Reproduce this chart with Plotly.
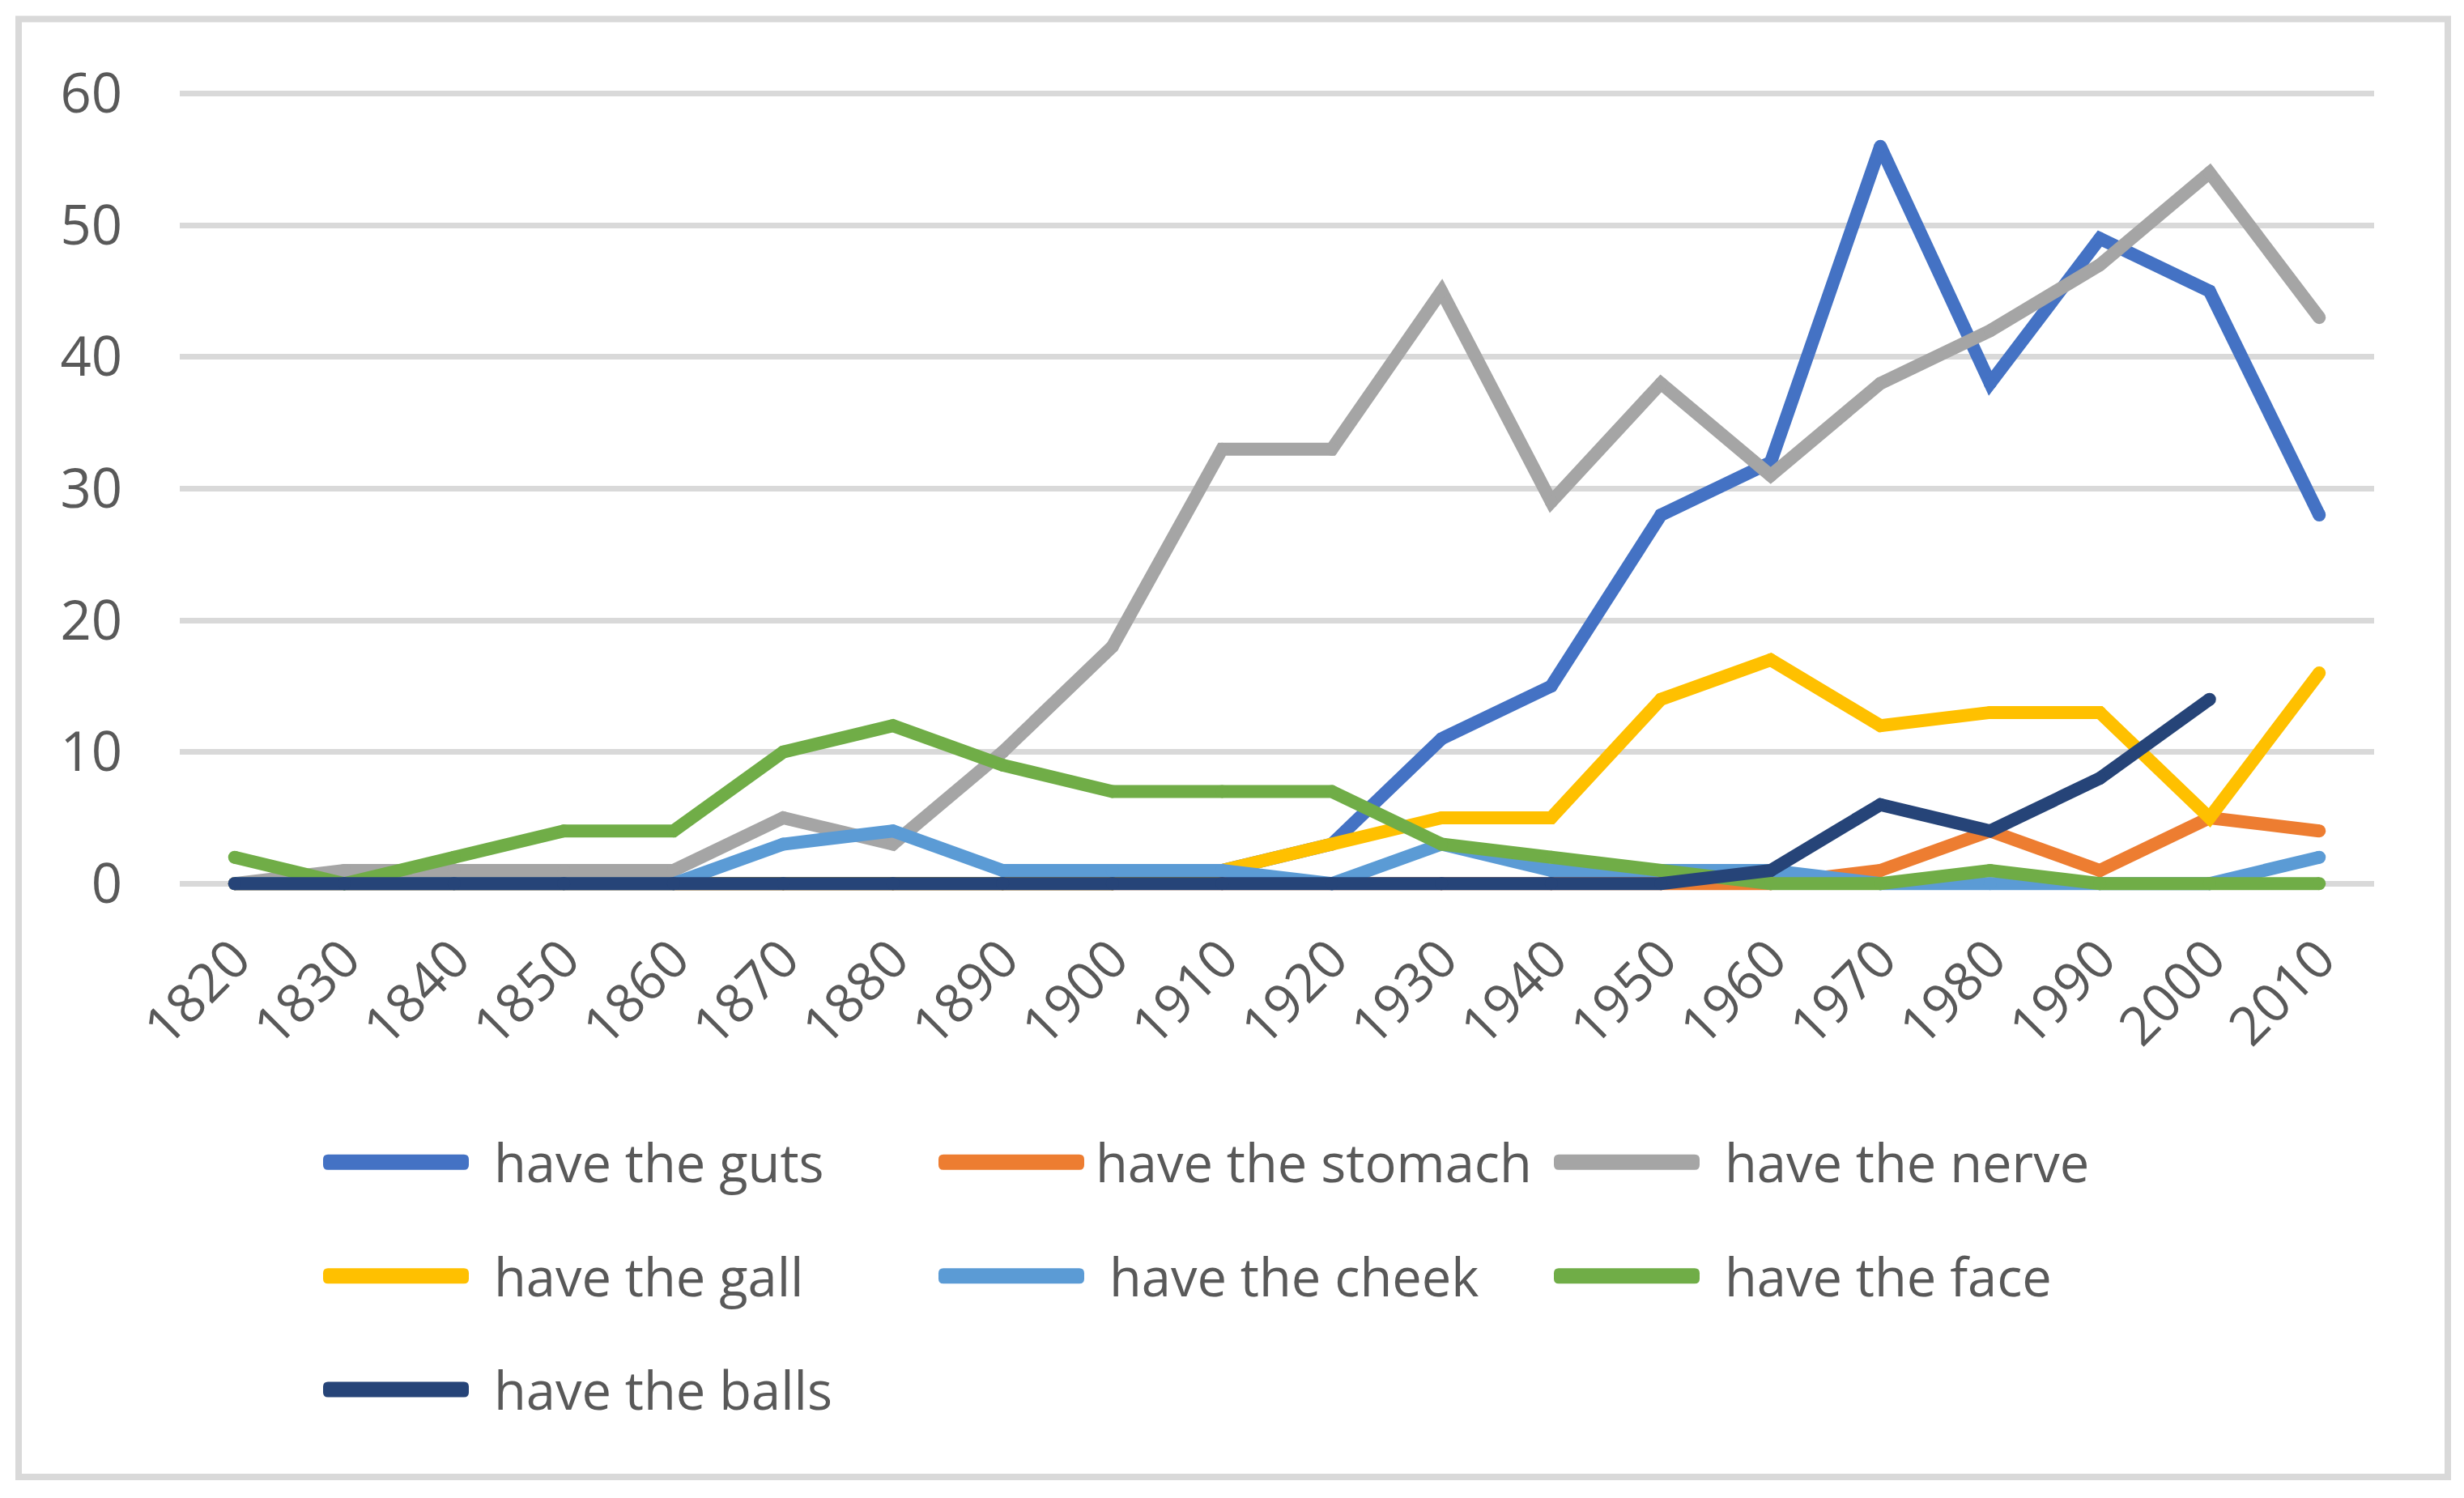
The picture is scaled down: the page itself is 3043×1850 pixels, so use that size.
import plotly.graph_objects as go

years = [1820, 1830, 1840, 1850, 1860, 1870, 1880, 1890, 1900, 1910,
         1920, 1930, 1940, 1950, 1960, 1970, 1980, 1990, 2000, 2010]

guts    = [0, 0, 0, 0, 0, 0, 0, 0, 0, 1, 3, 11, 15, 28, 32, 56, 38, 49, 45, 28]
stomach = [0, 0, 0, 0, 0, 0, 0, 0, 0, 0, 0, 0, 0, 0, 0, 1, 4, 1, 5, 4]
nerve   = [0, 1, 1, 1, 1, 5, 3, 10, 18, 33, 33, 45, 29, 38, 31, 38, 42, 47, 54, 43]
gall    = [0, 0, 0, 0, 0, 0, 0, 0, 0, 1, 3, 5, 5, 14, 17, 12, 13, 13, 5, 16]
cheek   = [0, 0, 0, 0, 0, 3, 4, 1, 1, 1, 0, 3, 1, 1, 1, 0, 0, 0, 0, 2]
face    = [2, 0, 2, 4, 4, 10, 12, 9, 7, 7, 7, 3, 2, 1, 0, 0, 1, 0, 0, 0]
balls   = [0, 0, 0, 0, 0, 0, 0, 0, 0, 0, 0, 0, 0, 0, 1, 6, 4, 8, 14, None]

series_names = ["have the guts", "have the stomach", "have the nerve",
                "have the gall", "have the cheek", "have the face", "have the balls"]
series_values = [guts, stomach, nerve, gall, cheek, face, balls]
colors = ["#4472C4", "#ED7D31", "#A5A5A5", "#FFC000", "#5B9BD5", "#70AD47", "#264478"]

y_ticks = [0, 10, 20, 30, 40, 50, 60]

# page is 3043x1850; the html body has an 8px default margin, so compensate
OFF = 8
W, H = 3043 - 2 * OFF, 1850 - 2 * OFF
FONT = "Open Sans"
TXT = "#595959"
LW = 16

# plot area in page pixels (converted to figure pixels with OFF)
PL, PR = 222 - OFF, 2932 - OFF
Y0_PX, Y60_PX = 1091.0 - OFF, 115.3 - OFF
unit = (Y0_PX - Y60_PX) / 60.0
pad = 0.6
ylo, yhi = -pad, 60 + pad
PT = Y60_PX - pad * unit
PB = Y0_PX + pad * unit

def px2x(px):
    # page pixel -> paper fraction
    return (px - OFF - PL) / (PR - PL)

def px2y(py):
    return (PB - (py - OFF)) / (PB - PT)

fig = go.Figure()
for name, vals, col in zip(series_names, series_values, colors):
    fig.add_trace(go.Scatter(
        x=years, y=vals, name=name, mode="lines+markers",
        line=dict(color=col, width=LW),
        marker=dict(color=col, size=LW, line=dict(width=0)),
        cliponaxis=False,
        showlegend=False,
    ))

shapes = []
annotations = []
# outer border
shapes.append(dict(type="rect", xref="paper", yref="paper",
                   x0=px2x(23), x1=px2x(3023), y0=px2y(1824), y1=px2y(23),
                   line=dict(color="#D9D9D9", width=8), fillcolor="rgba(0,0,0,0)",
                   layer="below"))

# manual legend (3 columns)
col_x = [399, 1159, 1919]
row_y = [1435, 1575.5, 1716]
sym_len = 180
sym_th = 19
text_gap = [29, 12, 29, 29, 29, 29, 29]

def rounded_bar(L, h, r):
    return (f"M {-L + r},{-h} L {L - r},{-h} Q {L},{-h} {L},{-h + r} "
            f"L {L},{h - r} Q {L},{h} {L - r},{h} L {-L + r},{h} "
            f"Q {-L},{h} {-L},{h - r} L {-L},{-h + r} Q {-L},{-h} {-L + r},{-h} Z")

for i, (name, col) in enumerate(zip(series_names, colors)):
    r, c = divmod(i, 3)
    x0 = col_x[c]
    y = row_y[r]
    shapes.append(dict(type="path", xref="paper", yref="paper",
                       xsizemode="pixel", ysizemode="pixel",
                       xanchor=px2x(x0 + sym_len / 2), yanchor=px2y(y),
                       path=rounded_bar(sym_len / 2, sym_th / 2, 6),
                       fillcolor=col, line=dict(width=0)))
    annotations.append(dict(xref="paper", yref="paper", x=px2x(x0 + sym_len + text_gap[i]), y=px2y(y),
                            text=name, showarrow=False, xanchor="left", yanchor="middle",
                            font=dict(family=FONT, size=65, color=TXT)))

fig.update_layout(
    width=W, height=H,
    margin=dict(l=PL, r=W - PR, t=PT, b=H - PB, pad=0),
    paper_bgcolor="white", plot_bgcolor="white",
    font=dict(family=FONT, size=66, color=TXT),
    shapes=shapes, annotations=annotations,
    showlegend=False,
)
fig.update_xaxes(
    range=[1815, 2015], tickmode="array", tickvals=years, ticktext=[str(y) for y in years],
    tickangle=-45, showgrid=False, zeroline=False, showline=False, ticks="",
    ticklabelstandoff=30, automargin=False,
    tickfont=dict(family=FONT, size=66, color=TXT),
)
fig.update_yaxes(
    range=[ylo, yhi], tickmode="array", tickvals=y_ticks, ticktext=[str(v) for v in y_ticks],
    showgrid=True, gridcolor="#D9D9D9", gridwidth=6.5, zeroline=False, showline=False,
    ticks="", ticklabelstandoff=70, automargin=False,
    tickfont=dict(family=FONT, size=67, color=TXT),
)

fig.write_html("out.html")
